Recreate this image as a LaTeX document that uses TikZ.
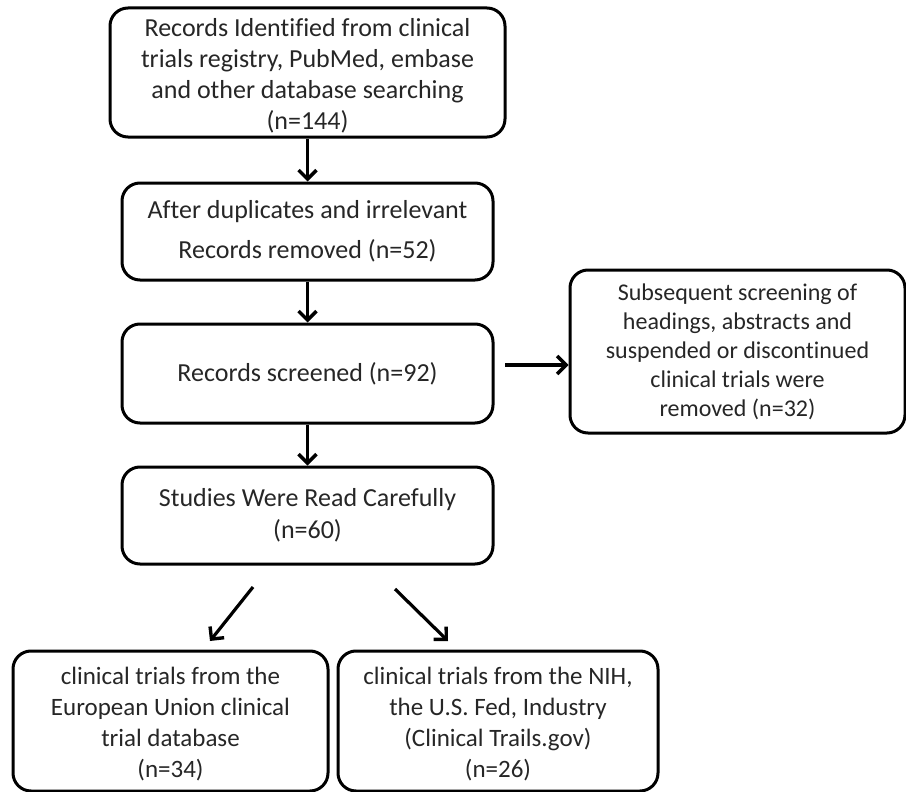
\documentclass[tikz,border=0pt]{standalone}
\usepackage{fontspec}
\setmainfont[Ligatures=NoCommon]{Carlito}
\usetikzlibrary{arrows.meta}
\newcommand{\lowtxt}[2]{\raisebox{-#1}[\height][\depth]{\begin{tabular}{@{}c@{}}#2\end{tabular}}}
\begin{document}
\begin{tikzpicture}[x=1pt,y=-1pt,
  box/.style={draw, line width=3pt, rounded corners=18pt, align=center, inner sep=0pt,
    font=\fontsize{26}{32}\selectfont, text=black!85},
  arr/.style={line width=3.2pt, -{Straight Barb[length=9pt,width=18pt,line width=3.4pt]}}]
\useasboundingbox (0,0) rectangle (906,792);
\node[box, minimum width=395pt, minimum height=129pt, font=\fontsize{26}{31}\selectfont] (b1) at (307.5,72.5)
  {\lowtxt{4pt}{Records Identified from clinical\\trials registry, PubMed, embase\\and other database searching\\(n=144)}};
\node[box, minimum width=371pt, minimum height=97pt, font=\fontsize{26}{40}\selectfont] (b2) at (307.5,231.5)
  {After duplicates and irrelevant\\Records removed (n=52)};
\node[box, minimum width=371pt, minimum height=99pt] (b3) at (307.5,373.5)
  {Records screened (n=92)};
\node[box, minimum width=371pt, minimum height=97pt] (b4) at (307.5,515.5)
  {Studies Were Read Carefully\\(n=60)};
\node[box, minimum width=335pt, minimum height=163pt, font=\fontsize{24}{29}\selectfont] (s) at (737.5,351.5)
  {Subsequent screening of\\headings, abstracts and\\suspended or discontinued\\clinical trials were\\removed (n=32)};
\node[box, minimum width=315pt, minimum height=140pt, font=\fontsize{25}{31}\selectfont] (bl) at (170.5,721)
  {\lowtxt{4pt}{clinical trials from the\\European Union clinical\\trial database\\(n=34)}};
\node[box, minimum width=320pt, minimum height=140pt, font=\fontsize{25}{31}\selectfont] (br) at (498,721)
  {\lowtxt{4pt}{clinical trials from the NIH,\\the U.S. Fed, Industry\\(Clinical Trails.gov)\\(n=26)}};
\coordinate (sa) at (505,365);
\coordinate (d1s) at (253,587);
\coordinate (d1e) at (210,641);
\coordinate (d2s) at (395,589);
\coordinate (d2e) at (448,641);
\draw[arr] (b1.south) -- (b2.north);
\draw[arr] (b2.south) -- (b3.north);
\draw[arr] (b3.south) -- (b4.north);
\draw[arr] (sa) -- (s.west |- sa);
\draw[arr] (d1s) -- (d1e);
\draw[arr] (d2s) -- (d2e);
\end{tikzpicture}
\end{document}
